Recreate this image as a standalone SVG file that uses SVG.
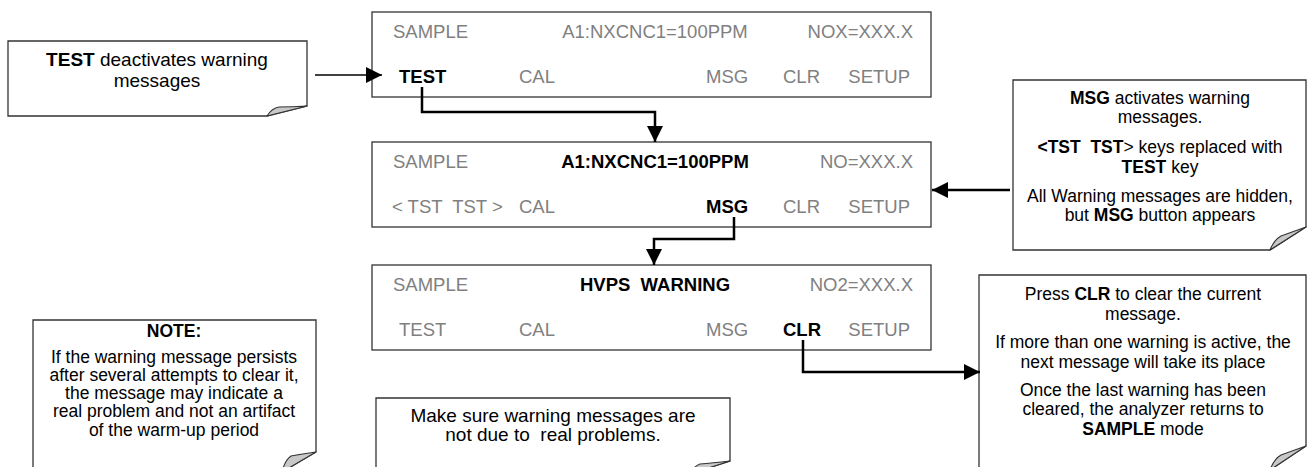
<svg xmlns="http://www.w3.org/2000/svg" width="1308" height="467" viewBox="0 0 1308 467">
<style>
  .scr { fill:#ffffff; stroke:#333333; stroke-width:1.3; }
  .note { fill:#ffffff; stroke:#333333; stroke-width:1.3; }
  .fold { fill:#c8c8c8; stroke:#333333; stroke-width:1.1; stroke-linejoin:round; }
  .st { font-family:"Liberation Sans", Arial, sans-serif; font-size:18.5px; fill:#808080; }
  .hi { fill:#000000; font-weight:bold; }
  .nt { font-family:"Liberation Sans", Arial, sans-serif; font-size:17.5px; fill:#000000; text-anchor:middle; }
  .n1 { font-size:19px; }
  .b { font-weight:bold; }
  .con { fill:none; stroke:#000000; stroke-width:2.5; }
  .con1 { fill:none; stroke:#000000; stroke-width:1.5; }
</style>
<defs>
  <marker id="ah" viewBox="0 0 10 10" refX="10" refY="5" markerUnits="userSpaceOnUse" markerWidth="16" markerHeight="17" orient="auto">
    <path d="M0,0 L10,5 L0,10 Z" fill="#000000"/>
  </marker>
</defs>

<!-- Note 1 -->
<g id="note-test">
  <path class="note" d="M8,41 H307 V106 L267,116 H8 Z"/>
  <path class="fold" d="M267,116 Q272,108 279,107 Q292,107 307,106 Z"/>
  <text class="nt n1" x="157" y="66"><tspan class="b">TEST</tspan> deactivates warning</text>
  <text class="nt n1" x="157" y="87">messages</text>
</g>

<!-- Screen 1 -->
<g id="screen1">
  <rect class="scr" x="372" y="12" width="559" height="85"/>
  <text class="st" x="393" y="38">SAMPLE</text>
  <text class="st" x="655" y="38" text-anchor="middle">A1:NXCNC1=100PPM</text>
  <text class="st" x="913" y="38" text-anchor="end">NOX=XXX.X</text>
  <text class="st hi" x="399" y="83">TEST</text>
  <text class="st" x="519" y="83">CAL</text>
  <text class="st" x="706" y="83">MSG</text>
  <text class="st" x="783" y="83">CLR</text>
  <text class="st" x="910" y="83" text-anchor="end">SETUP</text>
</g>

<!-- Screen 2 -->
<g id="screen2">
  <rect class="scr" x="372" y="142" width="559" height="85"/>
  <text class="st" x="393" y="168">SAMPLE</text>
  <text class="st hi" x="655" y="168" text-anchor="middle">A1:NXCNC1=100PPM</text>
  <text class="st" x="913" y="168" text-anchor="end">NO=XXX.X</text>
  <text class="st" x="392" y="213" xml:space="preserve">&lt; TST  TST &gt;</text>
  <text class="st" x="519" y="213">CAL</text>
  <text class="st hi" x="706" y="213">MSG</text>
  <text class="st" x="783" y="213">CLR</text>
  <text class="st" x="910" y="213" text-anchor="end">SETUP</text>
</g>

<!-- Screen 3 -->
<g id="screen3">
  <rect class="scr" x="372" y="265" width="559" height="85"/>
  <text class="st" x="393" y="291">SAMPLE</text>
  <text class="st hi" x="655" y="291" text-anchor="middle" xml:space="preserve">HVPS  WARNING</text>
  <text class="st" x="913" y="291" text-anchor="end">NO2=XXX.X</text>
  <text class="st" x="399" y="336">TEST</text>
  <text class="st" x="519" y="336">CAL</text>
  <text class="st" x="706" y="336">MSG</text>
  <text class="st hi" x="783" y="336">CLR</text>
  <text class="st" x="910" y="336" text-anchor="end">SETUP</text>
</g>

<!-- MSG note -->
<g id="note-msg">
  <path class="note" d="M1013,80 H1306 V227 L1270,250 H1013 Z"/>
  <path class="fold" d="M1270,250 Q1274,240 1281,236 Q1292,232 1306,227 Z"/>
  <text class="nt" x="1160" y="104"><tspan class="b">MSG</tspan> activates warning</text>
  <text class="nt" x="1160" y="123">messages.</text>
  <text class="nt" x="1160" y="153" xml:space="preserve"><tspan class="b">&lt;TST  TST</tspan>&gt; keys replaced with</text>
  <text class="nt" x="1160" y="173"><tspan class="b">TEST</tspan> key</text>
  <text class="nt" x="1160" y="202">All Warning messages are hidden,</text>
  <text class="nt" x="1160" y="221">but <tspan class="b">MSG</tspan> button appears</text>
</g>

<!-- CLR note -->
<g id="note-clr">
  <path class="note" d="M979,275 H1306 V446 L1270,470 H979 Z"/>
  <path class="fold" d="M1270,470 Q1274,459 1281,455 Q1292,451 1306,446 Z"/>
  <text class="nt" x="1143" y="300">Press <tspan class="b">CLR</tspan> to clear the current</text>
  <text class="nt" x="1143" y="320">message.</text>
  <text class="nt" x="1143" y="348">If more than one warning is active, the</text>
  <text class="nt" x="1143" y="368">next message will take its place</text>
  <text class="nt" x="1143" y="396">Once the last warning has been</text>
  <text class="nt" x="1143" y="415">cleared, the analyzer returns to</text>
  <text class="nt" x="1143" y="435"><tspan class="b">SAMPLE</tspan> mode</text>
</g>

<!-- NOTE box -->
<g id="note-warn">
  <path class="note" d="M33,320 H316 V452 L282,472 H33 Z"/>
  <path class="fold" d="M282,472 Q285,460 291,456 Q302,454 316,452 Z"/>
  <text class="nt b" x="174" y="337">NOTE:</text>
  <text class="nt" x="174" y="363">If the warning message persists</text>
  <text class="nt" x="174" y="381">after several attempts to clear it,</text>
  <text class="nt" x="174" y="399">the message may indicate a</text>
  <text class="nt" x="174" y="417">real problem and not an artifact</text>
  <text class="nt" x="174" y="436">of the warm-up period</text>
</g>

<!-- Make sure box -->
<g id="note-real">
  <path class="note" d="M376,398 H730 V461 L690,474 H376 Z"/>
  <path class="fold" d="M690,474 Q694,466 700,464 Q712,463 730,461 Z"/>
  <text class="nt n1" x="553" y="422">Make sure warning messages are</text>
  <text class="nt n1" x="553" y="441" xml:space="preserve">not due to  real problems.</text>
</g>

<!-- Connectors -->
<g id="connectors">
  <line class="con1" x1="315" y1="75" x2="382" y2="75" marker-end="url(#ah)"/>
  <polyline class="con" points="422,87 422,112 655,112 655,142" marker-end="url(#ah)"/>
  <polyline class="con" points="734,217 734,239 654,239 654,265" marker-end="url(#ah)"/>
  <line class="con" x1="1010" y1="190" x2="932" y2="190" marker-end="url(#ah)"/>
  <polyline class="con" points="803,340 803,372 980,372" marker-end="url(#ah)"/>
</g>
</svg>
